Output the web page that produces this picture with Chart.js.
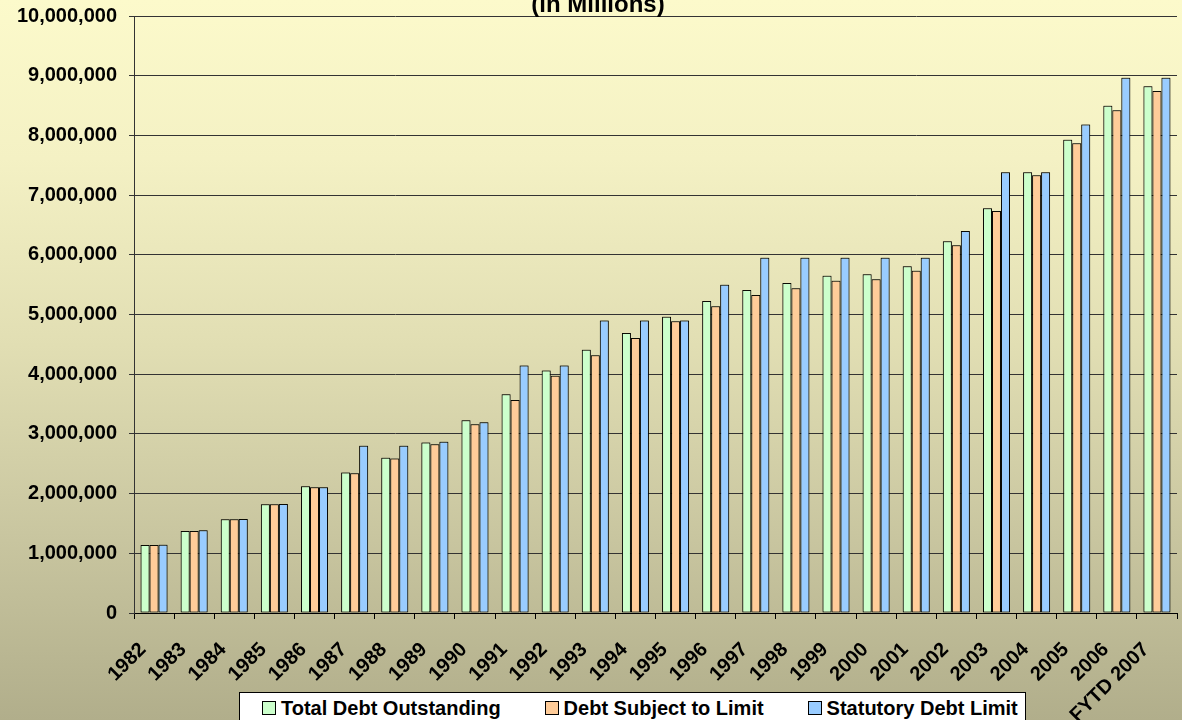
<!DOCTYPE html>
<html>
<head>
<meta charset="utf-8">
<script src="https://cdn.jsdelivr.net/npm/chart.js@4.4.0/dist/chart.umd.min.js"></script>
<style>
  html, body { margin: 0; padding: 0; }
  #wrap {
    position: relative; width: 1182px; height: 720px; overflow: hidden;
    background: linear-gradient(to bottom, #FCFACB 0%, #F4F1C4 22%, #E1DEB3 48%, #C9C6A0 74%, #B1AE8B 100%);
    font-family: "Liberation Sans", Arial, sans-serif;
  }
  #chart { position: absolute; left: 0; top: 0; }
  #title {
    position: absolute; left: 0; width: 1196px; top: -8px; text-align: center;
    font-weight: bold; font-size: 24px; line-height: 24px; color: #000;
  }
  #legend {
    position: absolute; left: 239px; top: 692px; width: 787px; height: 40px;
    box-sizing: border-box; background: #fff; border: 1px solid #000;
    display: flex; align-items: flex-start; padding-left: 22px; padding-top: 5px;
    font-weight: bold; font-size: 20px; line-height: 20px; color: #000;
  }
  .item { display: flex; align-items: flex-start; margin-right: 44px; white-space: nowrap; }
  .mk { width: 12px; height: 12px; border: 1px solid #000; margin-top: 3px; margin-right: 5px; }
</style>
</head>
<body>
<div id="wrap">
  <canvas id="chart" width="1182" height="720"></canvas>
  <div id="title">(in Millions)</div>
  <div id="legend"></div>
</div>
<script>
const categories = ['1982','1983','1984','1985','1986','1987','1988','1989','1990','1991','1992','1993','1994','1995','1996','1997','1998','1999','2000','2001','2002','2003','2004','2005','2006','FYTD 2007'];

const totalDebtOutstanding = [1140000,1375000,1570000,1821000,2123000,2355000,2601000,2854000,3229000,3664000,4060000,4411000,4691000,4964000,5226000,5411000,5528000,5651000,5674000,5807000,6227000,6780000,7381000,7929000,8498000,8823000];

const debtSubjectToLimit = [1139000,1373000,1569000,1820000,2105000,2340000,2590000,2826000,3161000,3568000,3975000,4316000,4606000,4886000,5137000,5327000,5439000,5566000,5589000,5734000,6159000,6734000,7332000,7867000,8420000,8744000];

const statutoryDebtLimit = [1143000,1385000,1573000,1824000,2108000,2800000,2800000,2870000,3195000,4145000,4145000,4900000,4900000,4900000,5500000,5950000,5950000,5950000,5950000,5950000,6400000,7384000,7384000,8184000,8965000,8965000];

const seriesNames = ['Total Debt Outstanding', 'Debt Subject to Limit', 'Statutory Debt Limit'];
const seriesColors = ['#CCFFCC', '#FFCC99', '#99CCFF'];

const yMin = 0, yMax = 10000000, yStep = 1000000;

const FONT = '"Liberation Sans", Arial, sans-serif';

const shadowPlugin = {
  id: 'barShadow',
  beforeDatasetsDraw(chart) {
    const c = chart.ctx;
    c.save();
    c.shadowColor = 'rgba(30,30,10,0.6)';
    c.shadowBlur = 3;
    c.shadowOffsetX = 0;
    c.shadowOffsetY = -1;
  },
  afterDatasetsDraw(chart) { chart.ctx.restore(); }
};

const values = [totalDebtOutstanding, debtSubjectToLimit, statutoryDebtLimit];

const chart = new Chart(document.getElementById('chart'), {
  type: 'bar',
  data: {
    labels: categories,
    datasets: values.map((v, i) => ({
      label: seriesNames[i],
      data: v,
      backgroundColor: seriesColors[i],
      borderColor: '#000',
      borderWidth: 1,
      borderSkipped: false,
      categoryPercentage: 0.673,
      barPercentage: 1.0
    }))
  },
  plugins: [shadowPlugin],
  options: {
    responsive: false,
    animation: false,
    layout: { padding: { top: 16, right: 5, bottom: 0, left: 0 } },
    plugins: {
      legend: { display: false },
      title: { display: false },
      tooltip: { enabled: false }
    },
    scales: {
      x: {
        offset: true,
        afterFit(axis) { axis.height = 107; axis.paddingLeft = 0; axis.paddingRight = 0; },
        grid: { display: true, drawOnChartArea: false, drawTicks: true, tickLength: 6, color: '#000', offset: true },
        border: { display: true, color: '#000', width: 1 },
        ticks: {
          autoSkip: false, minRotation: 45, maxRotation: 45, padding: 19, labelOffset: -11,
          color: '#000', font: { family: FONT, size: 20, weight: 'bold' }
        }
      },
      y: {
        min: yMin, max: yMax,
        afterFit(axis) { axis.width = 134; axis.paddingTop = 0; axis.paddingBottom = 0; },
        grid: { color: '#333', lineWidth: 1, drawTicks: true, tickLength: 5 },
        border: { display: true, color: '#333', width: 1 },
        ticks: {
          stepSize: yStep, padding: 12, color: '#000',
          font: { family: FONT, size: 20, weight: 'bold' },
          callback: (v) => Number(v).toLocaleString('en-US')
        }
      }
    }
  }
});

const legendEl = document.getElementById('legend');
chart.data.datasets.forEach(ds => {
  const item = document.createElement('div');
  item.className = 'item';
  const mk = document.createElement('span');
  mk.className = 'mk';
  mk.style.background = ds.backgroundColor;
  const tx = document.createElement('span');
  tx.textContent = ds.label;
  item.appendChild(mk);
  item.appendChild(tx);
  legendEl.appendChild(item);
});
</script>
</body>
</html>
